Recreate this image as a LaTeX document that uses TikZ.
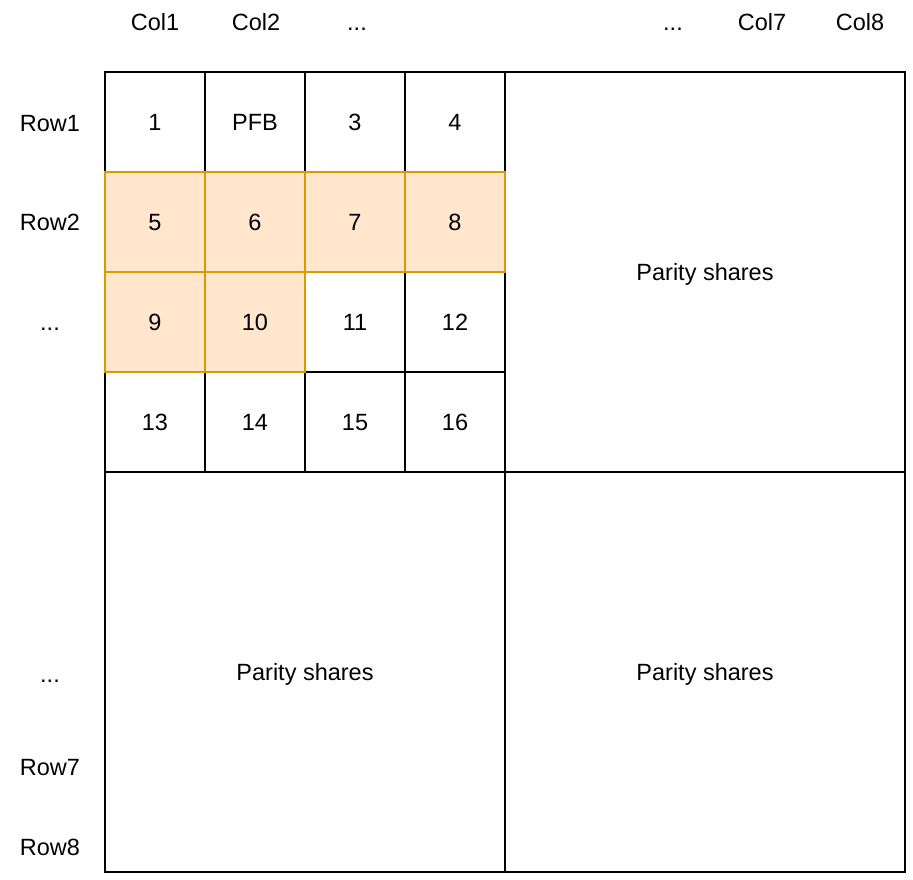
\documentclass[tikz,border=0pt]{standalone}
\usepackage{fontspec}
\setmainfont{Liberation Sans}
\begin{document}
\definecolor{peachfill}{HTML}{FFE6CC}
\definecolor{peachline}{HTML}{D79B00}
\begin{tikzpicture}[x=1pt,y=-1pt,
  every node/.style={font=\fontsize{23.5}{27}\selectfont,text height=16.8pt,text depth=0pt},
  cell/.style={draw=black,line width=1.6pt,minimum width=100pt,minimum height=100pt,inner sep=0pt,anchor=center},
  hot/.style={cell,draw=peachline,fill=peachfill},
  big/.style={draw=black,line width=1.6pt,minimum width=400pt,minimum height=400pt,inner sep=0pt},
  lbl/.style={inner sep=0pt,anchor=center}]
\useasboundingbox (0,0) rectangle (913,879);
% plain data cells
\node[cell] (c1)  at (155,122) {1};
\node[cell] (c2)  at (255,122) {PFB};
\node[cell] (c3)  at (355,122) {3};
\node[cell] (c4)  at (455,122) {4};
\node[cell] (c11) at (355,322) {11};
\node[cell] (c12) at (455,322) {12};
\node[cell] (c13) at (155,422) {13};
\node[cell] (c14) at (255,422) {14};
\node[cell] (c15) at (355,422) {15};
\node[cell] (c16) at (455,422) {16};
% parity blocks
\node[big] (pr) at (705,272) {Parity shares};
\node[big] (pb) at (305,672) {Parity shares};
\node[big] (pc) at (705,672) {Parity shares};
% highlighted cells
\node[hot] (c5)  at (155,222) {5};
\node[hot] (c6)  at (255,222) {6};
\node[hot] (c7)  at (355,222) {7};
\node[hot] (c8)  at (455,222) {8};
\node[hot] (c9)  at (155,322) {9};
\node[hot] (c10) at (255,322) {10};
% column headers
\node[lbl] (h1) at (155,22) {Col1};
\node[lbl] (h2) at (256,22) {Col2};
\node[lbl] (h3) at (357,22) {...};
\node[lbl] (h4) at (673,22) {...};
\node[lbl] (h7) at (762,22) {Col7};
\node[lbl] (h8) at (860,22) {Col8};
% row headers
\node[lbl] (r1) at (50,123) {Row1};
\node[lbl] (r2) at (50,222) {Row2};
\node[lbl] (r3) at (50,322) {...};
\node[lbl] (r4) at (50,674) {...};
\node[lbl] (r7) at (50,767) {Row7};
\node[lbl] (r8) at (50,847) {Row8};
\end{tikzpicture}
\end{document}
